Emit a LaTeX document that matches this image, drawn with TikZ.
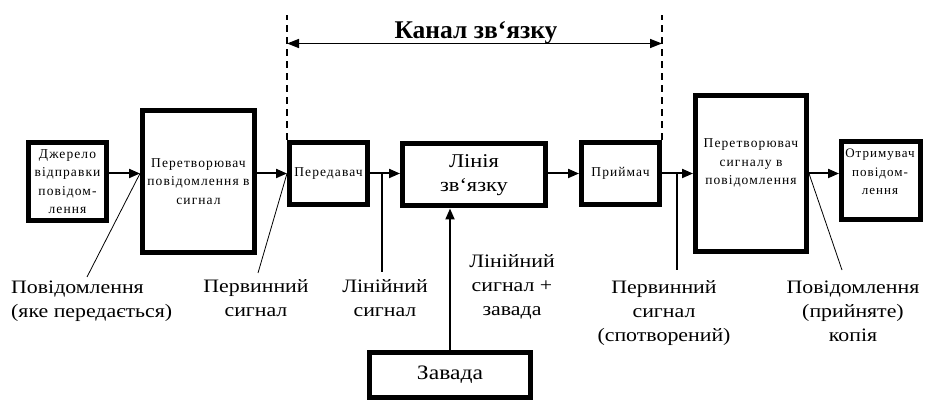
\documentclass[tikz,border=0pt]{standalone}
\usepackage{fontspec}
\setmainfont{Liberation Serif}
\newfontfamily\lblfont[FakeStretch=1.15]{Liberation Serif}
\newfontfamily\boxfont[LetterSpace=8]{Liberation Serif}
\usetikzlibrary{arrows.meta}
\tikzset{
  blk/.style={draw, line width=5pt, rectangle, inner sep=0pt, align=center,
    font=\boxfont\fontsize{13.5}{18.5}\selectfont},
  btxt/.style={align=center, inner sep=0pt, font=\boxfont\fontsize{13.5}{18.5}\selectfont},
  arr/.style={line width=2pt, -{Triangle[length=11pt,width=9pt]}},
  thin/.style={line width=0.8pt},
  lbl/.style={align=center, inner sep=0pt, anchor=north,
    font=\lblfont\fontsize{19}{24}\selectfont},
  dsh/.style={line width=2pt, dash pattern=on 7pt off 5pt},
}
\begin{document}
\begin{tikzpicture}[x=1pt,y=-1pt]
\useasboundingbox (0,0) rectangle (937,411);
% boxes
\node[blk, minimum width=78pt, minimum height=78pt] (src) at (67.5,181.5) {Джерело\\відправки\\повідом-\\лення};
\node[blk, minimum width=112pt, minimum height=142pt] (c1) at (198.5,181.5) {Перетворювач\\повідомлення в\\сигнал};
\node[blk, minimum width=78pt, minimum height=62pt] (pd) at (328.5,173.5) {Передавач};
\node[blk, minimum width=143pt, minimum height=62pt, font=\lblfont\fontsize{19.5}{24}\selectfont] (ln) at (474,175) {Лінія\\зв‘язку};
\node[blk, minimum width=78pt, minimum height=62pt] (pr) at (620.5,173.5) {Приймач};
\node[blk, minimum width=111pt, minimum height=156pt] (c2) at (751,173.5) {};
\node[btxt] (c2t) at (751,163) {Перетворювач\\сигналу в\\повідомлення};
\node[blk, minimum width=79pt, minimum height=78pt] (rc) at (881,180.5) {};
\node[btxt, font=\boxfont\fontsize{13}{18.5}\selectfont] (rct) at (880,172) {Отримувач\\повідом-\\лення};
\node[blk, minimum width=161pt, minimum height=45pt, font=\lblfont\fontsize{20.5}{24}\selectfont] (zv) at (450,375) {Завада};
% main arrows
\draw[arr] (src.east |- pd.west) -- (c1.west |- pd.west);
\draw[arr] (c1.east |- pd.west) -- (pd.west);
\draw[arr] (pd.east) -- (ln.west |- pd.east);
\draw[arr] (ln.east |- pd.east) -- (pr.west);
\draw[arr] (pr.east) -- (c2.west |- pr.east);
\draw[arr] (c2.east |- pr.east) -- (rc.west |- pr.east);
\draw[arr] (zv.north) -- (ln.south -| zv.north);
% channel
\coordinate (dl) at (287,15);
\coordinate (dr) at (662,15);
\draw[dsh] (pd.north west) -- (dl);
\draw[dsh] (pr.north east) -- (dr);
\coordinate (al) at (287,43.5);
\coordinate (ar) at (662,43.5);
\draw[line width=1.5pt, {Triangle[length=12pt,width=9pt]}-{Triangle[length=12pt,width=9pt]}] (al) -- (ar);
\node[font=\bfseries\fontsize{25.5}{28}\selectfont, inner sep=0pt, anchor=base] (title) at (476,39) {Канал зв‘язку};
% labels
\node[lbl, align=left, anchor=north west] (l1) at (11,280.5) {Повідомлення\\(яке передається)};
\node[lbl] (l2) at (256,279) {Первинний\\сигнал};
\node[lbl] (l3) at (385,279) {Лінійний\\сигнал};
\node[lbl] (l4) at (512,254) {Лінійний\\сигнал +\\завада};
\node[lbl] (l5) at (664,280.5) {Первинний\\сигнал\\(спотворений)};
\node[lbl] (l6) at (853,280.5) {Повідомлення\\(прийняте)\\копія};
% pointer lines
\coordinate (p1) at (87,277);
\coordinate (p2) at (258,273);
\coordinate (p3a) at (382,173.5);
\coordinate (p3) at (382,272);
\coordinate (p5a) at (677,173.5);
\coordinate (p5) at (677,270);
\coordinate (p6) at (842,270);
\draw[thin] (c1.west |- pd.west) -- (p1);
\draw[thin] (pd.west) -- (p2);
\draw[line width=1.5pt] (p3a) -- (p3);
\draw[line width=1.5pt] (p5a) -- (p5);
\draw[thin] (c2.east |- pr.east) -- (p6);
\end{tikzpicture}
\end{document}
